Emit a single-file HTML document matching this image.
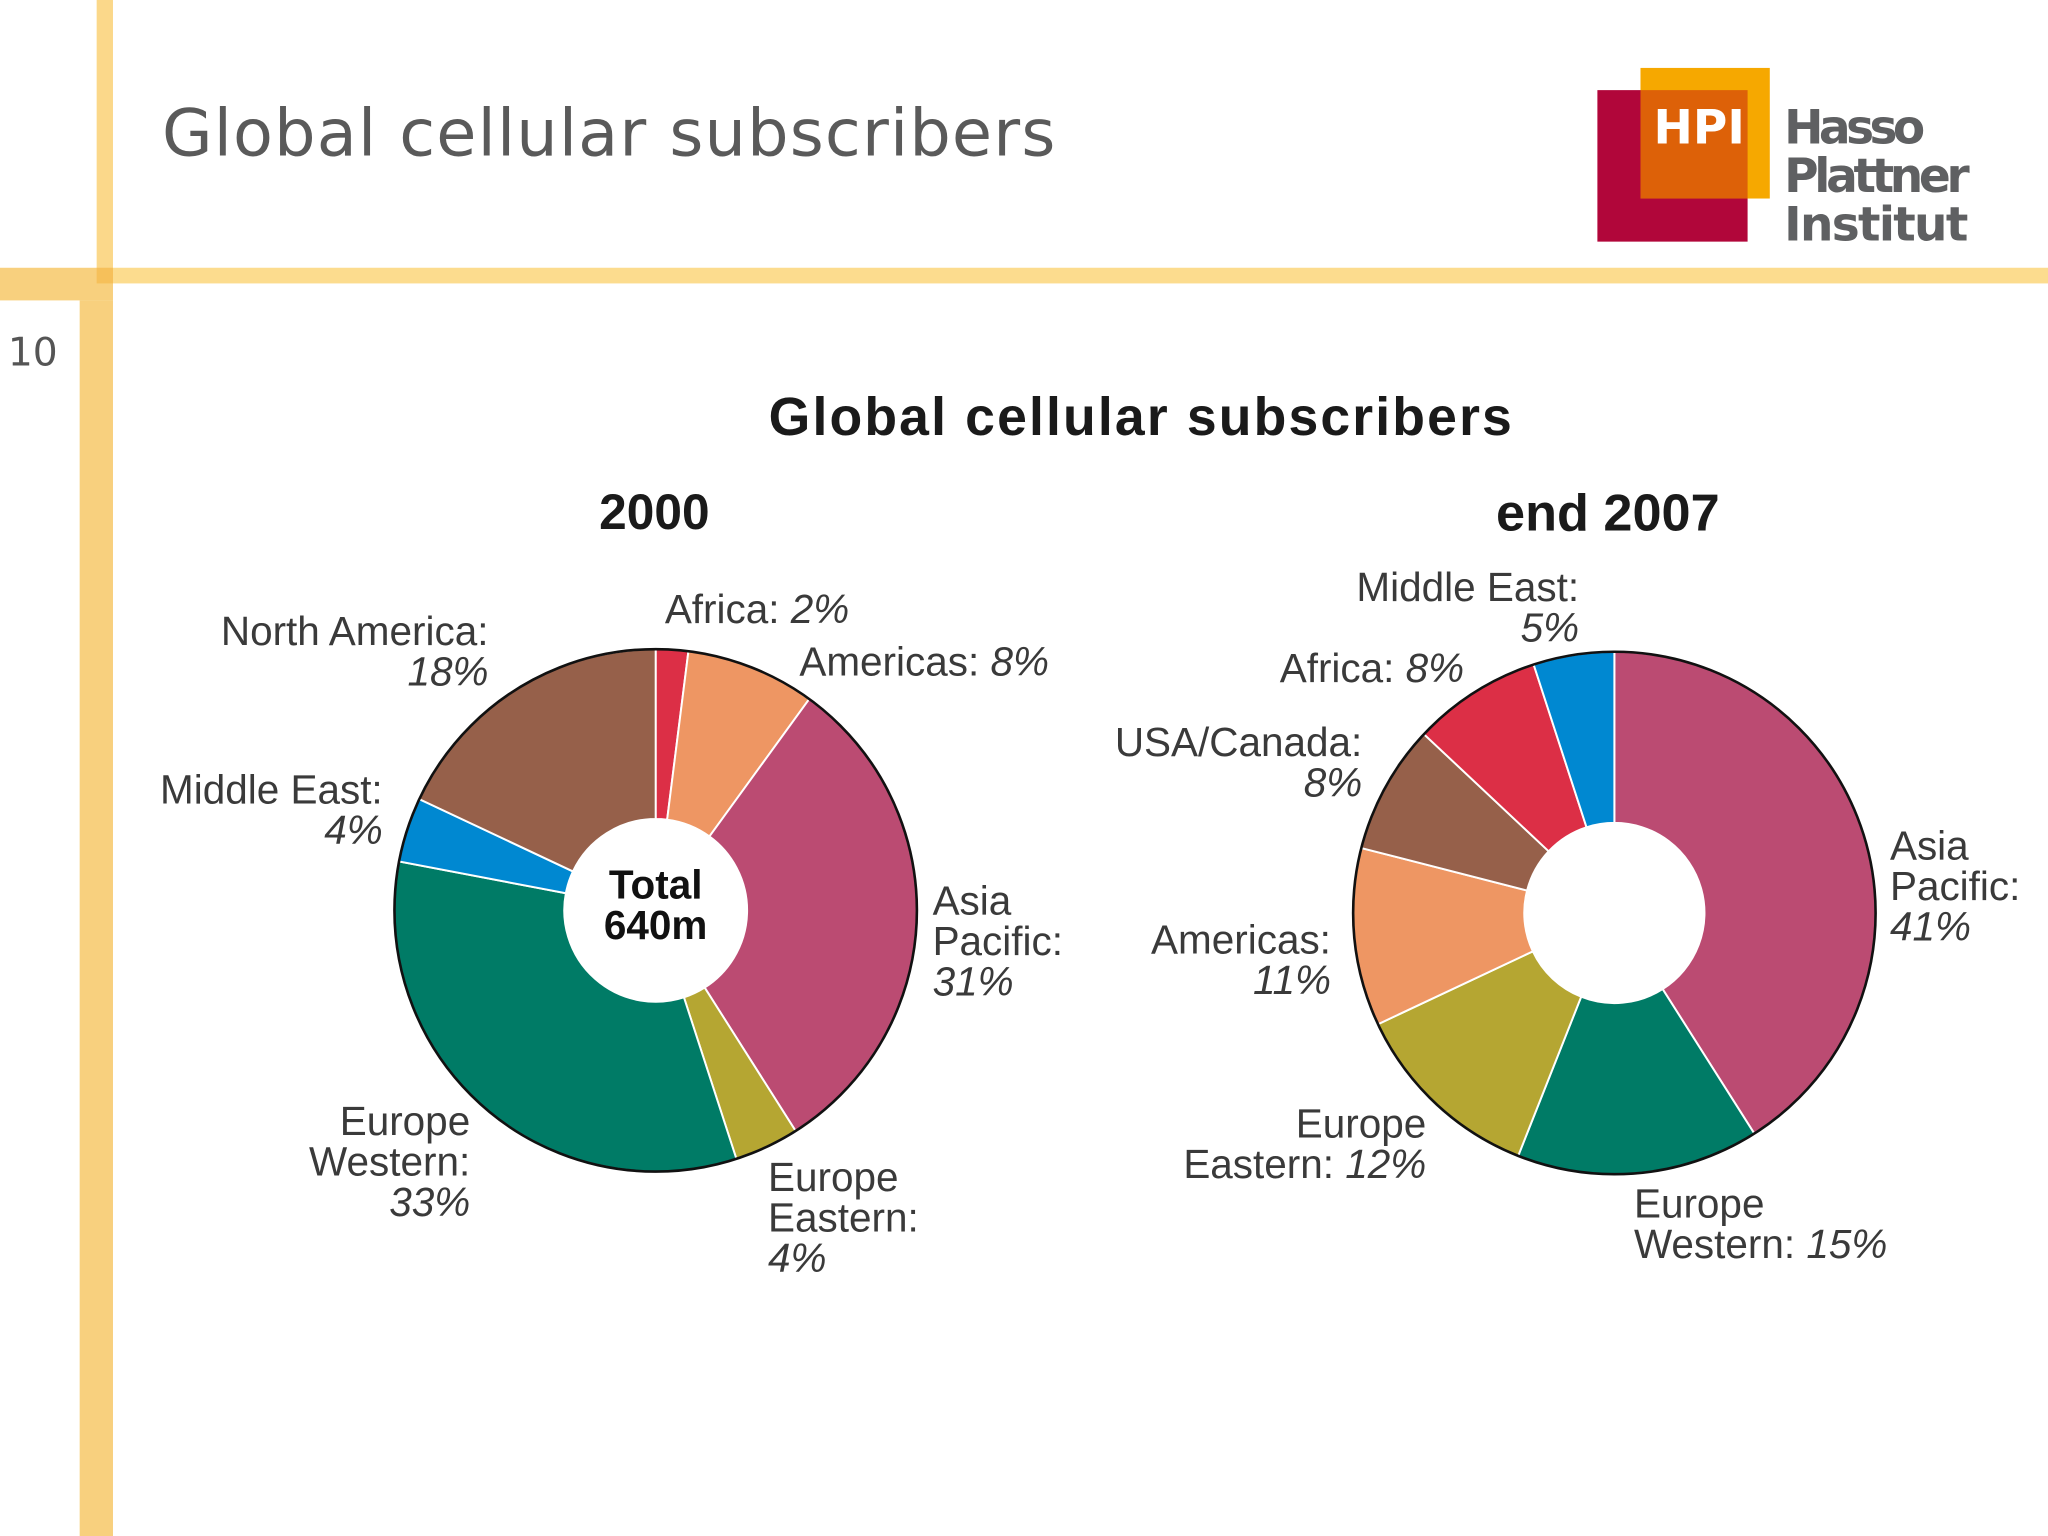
<!DOCTYPE html>
<html><head><meta charset="utf-8"><style>
html,body{margin:0;padding:0;background:#fff}
svg{display:block}
text{font-family:"Liberation Sans",Arial,sans-serif}
</style></head><body>
<svg id="s" width="2048" height="1536" viewBox="0 0 1568 1176" xmlns="http://www.w3.org/2000/svg">
<rect x="0" y="0" width="1568" height="1176" fill="#fff"/>
<g>
<rect x="74" y="0" width="12.5" height="217" fill="#fbd88a"/>
<rect x="74" y="205" width="1494" height="12" fill="#fcdc8e"/>
<rect x="0" y="205" width="86.5" height="25" fill="#f8d07e"/>
<rect x="61" y="230" width="25.5" height="946" fill="#f8d07e"/>
<rect x="74" y="205" width="12.5" height="12" fill="#f6c05a"/>
</g>
<text x="6" y="280" font-size="30" fill="#555" style="font-family:'DejaVu Sans',sans-serif">10</text>
<text x="124" y="119" font-size="50" fill="#5a5a5a" style="font-family:'DejaVu Sans',sans-serif" textLength="684">Global cellular subscribers</text>
<g>
<rect x="1223" y="69" width="115" height="116" fill="#b1063a"/>
<rect x="1256" y="52" width="99" height="100" fill="#f6a800"/>
<rect x="1256" y="69" width="82" height="83" fill="#dd6108"/>
<text x="1266" y="110" font-size="36" font-weight="bold" fill="#fff" style="font-family:'DejaVu Sans',sans-serif">HPI</text>
<text x="1366" y="110" font-size="36" font-weight="bold" fill="#5f6062" style="font-family:'DejaVu Sans',sans-serif" textLength="108">Hasso</text>
<text x="1366" y="147" font-size="36" font-weight="bold" fill="#5f6062" style="font-family:'DejaVu Sans',sans-serif" textLength="142">Plattner</text>
<text x="1366" y="184" font-size="36" font-weight="bold" fill="#5f6062" style="font-family:'DejaVu Sans',sans-serif" textLength="141">Institut</text>
</g>
<text x="873" y="333" font-size="41" font-weight="bold" fill="#1a1a1a" text-anchor="middle" textLength="569">Global cellular subscribers</text>
<text x="501" y="405" font-size="38" font-weight="bold" fill="#1a1a1a" text-anchor="middle">2000</text>
<text x="1231" y="406" font-size="40" font-weight="bold" fill="#1a1a1a" text-anchor="middle">end 2007</text>
<g id="p1"></g>
<g id="p2"></g>
<text x="502" y="688" font-size="31" font-weight="bold" fill="#111" text-anchor="middle">Total</text>
<text x="502" y="719" font-size="31" font-weight="bold" fill="#111" text-anchor="middle">640m</text>
<g id="labels" font-size="31" fill="#3a3a3a"></g>
</svg>
<script>
const cats2000 = ["Africa","Americas","Asia Pacific","Europe Eastern","Europe Western","Middle East","North America"];
const vals2000 = [2,8,31,4,33,4,18];
const cols2000 = ["#dc2f46","#ee9663","#bb4b72","#b5a632","#007b66","#0088d1","#96604a"];
const cats2007 = ["Asia Pacific","Europe Western","Europe Eastern","Americas","USA/Canada","Africa","Middle East"];
const vals2007 = [41,15,12,11,8,8,5];
const cols2007 = ["#bb4b72","#007b66","#b5a632","#ee9663","#96604a","#dc2f46","#0088d1"];
const NS="http://www.w3.org/2000/svg";
function pt(cx,cy,r,a){return [cx+r*Math.sin(a),cy-r*Math.cos(a)];}
function drawPie(g,cats,vals,cols,cx,cy,R,r){
  const tot=vals.reduce((a,b)=>a+b,0);let a0=0;
  vals.forEach((v,i)=>{
    const a1=a0+v/tot*2*Math.PI;const big=(a1-a0)>Math.PI?1:0;
    const p1=pt(cx,cy,R,a0),p2=pt(cx,cy,R,a1),p3=pt(cx,cy,r,a1),p4=pt(cx,cy,r,a0);
    const p=document.createElementNS(NS,"path");
    p.setAttribute("d",`M${p1}A${R},${R} 0 ${big} 1 ${p2}L${p3}A${r},${r} 0 ${big} 0 ${p4}Z`);
    p.setAttribute("fill",cols[i]);p.setAttribute("stroke","#fff");p.setAttribute("stroke-width","1.5");
    
    
    g.appendChild(p);a0=a1;
  });
  const c=document.createElementNS(NS,"circle");
  c.setAttribute("cx",cx);c.setAttribute("cy",cy);c.setAttribute("r",R);c.setAttribute("fill","none");c.setAttribute("stroke","#111");c.setAttribute("stroke-width","2");
  
  
  g.appendChild(c);
}
drawPie(document.getElementById("p1"),cats2000,vals2000,cols2000,502,697,200,70);
drawPie(document.getElementById("p2"),cats2007,vals2007,cols2007,1236,699,200,69);
const labels=[
 [[["North America:",0],["18%",1]],374,494,"end"],
 [[["Africa: ",0,"2%"]],509,477,"start"],
 [[["Americas: ",0,"8%"]],612,517,"start"],
 [[["Middle East:",0],["4%",1]],293,615,"end"],
 [[["Asia",0],["Pacific:",0],["31%",1]],714,700,"start"],
 [[["Europe",0],["Western:",0],["33%",1]],360,869,"end"],
 [[["Europe",0],["Eastern:",0],["4%",1]],588,912,"start"],
 [[["Middle East:",0],["5%",1]],1209,460,"end"],
 [[["Africa: ",0,"8%"]],1121,522,"end"],
 [[["USA/Canada:",0],["8%",1]],1043,579,"end"],
 [[["Americas:",0],["11%",1]],1019,730,"end"],
 [[["Europe",0],["Eastern: ",0,"12%"]],1092,871,"end"],
 [[["Asia",0],["Pacific:",0],["41%",1]],1447,658,"start"],
 [[["Europe",0],["Western: ",0,"15%"]],1251,932,"start"]
];
const lg=document.getElementById("labels");
labels.forEach(L=>{
  L[0].forEach((ln,k)=>{
    const t=document.createElementNS(NS,"text");
    t.setAttribute("x",L[1]);t.setAttribute("y",L[2]+k*31);t.setAttribute("text-anchor",L[3]);
    const s=document.createElementNS(NS,"tspan");s.textContent=ln[0];if(ln[1])s.setAttribute("font-style","italic");t.appendChild(s);
    if(ln[2]){const s2=document.createElementNS(NS,"tspan");s2.textContent=ln[2];s2.setAttribute("font-style","italic");t.appendChild(s2);}
    
    
    lg.appendChild(t);
  });
});
</script>
</body></html>
